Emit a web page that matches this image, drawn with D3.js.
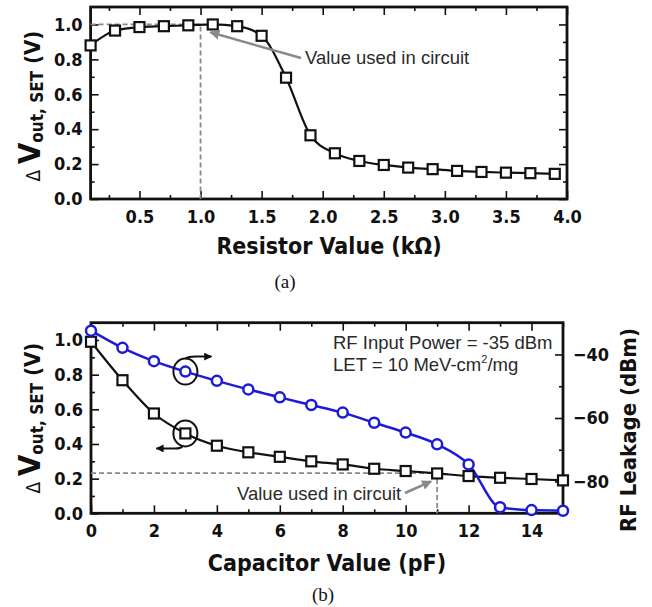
<!DOCTYPE html>
<html>
<head>
<meta charset="utf-8">
<script src="https://cdn.jsdelivr.net/npm/d3@7"></script>
<style>
body { margin: 0; background: #fff; }
text { font-family: "DejaVu Sans Condensed", "DejaVu Sans", sans-serif; font-stretch: condensed; fill: #111; }
.ax text { font-weight: bold; font-size: 18px; }
.ax line { stroke: #111; stroke-width: 1.6; }
.ax path { display: none; }
.note { font-family: "Liberation Sans", Arial, sans-serif; font-stretch: normal; font-size: 18.5px; fill: #2a2a2a; }
.cap { font-family: "Liberation Serif", "Times New Roman", serif; font-stretch: normal; font-size: 19px; }
</style>
</head>
<body>
<svg id="fig" width="652" height="607"></svg>
<script>
// (a) output swing vs resistor value
var resX = [0.1, 0.3, 0.5, 0.7, 0.9, 1.1, 1.3, 1.5, 1.7, 1.9, 2.1, 2.3, 2.5, 2.7, 2.9, 3.1, 3.3, 3.5, 3.7, 3.9]
var resV = [0.88, 0.965, 0.985, 0.99, 0.995, 1.0, 0.99, 0.935, 0.695, 0.365, 0.262, 0.218, 0.195, 0.18, 0.171, 0.161, 0.155, 0.151, 0.148, 0.144]
var resTicks = [0.5, 1.0, 1.5, 2.0, 2.5, 3.0, 3.5, 4.0]
var resMinor = [0.25, 0.75, 1.25, 1.75, 2.25, 2.75, 3.25, 3.75]
var resUsed = 1.0

// (b) output swing and RF leakage vs capacitor value
var capX = [0, 1, 2, 3, 4, 5, 6, 7, 8, 9, 10, 11, 12, 13, 14, 15]
var capV = [0.99, 0.768, 0.576, 0.461, 0.39, 0.352, 0.326, 0.30, 0.282, 0.257, 0.244, 0.23, 0.215, 0.205, 0.198, 0.19]
var capRF = [-32.5, -37.9, -42.1, -45.4, -48.3, -51.0, -53.5, -55.9, -58.3, -61.5, -64.6, -68.3, -74.6, -88.1, -89.0, -89.2]
var capTicks = [0, 2, 4, 6, 8, 10, 12, 14]
var capMinor = [1, 3, 5, 7, 9, 11, 13, 15]
var capUsed = 11

var vTicks = [0, 0.2, 0.4, 0.6, 0.8, 1.0]
var vMinor = [0.1, 0.3, 0.5, 0.7, 0.9]
var rfTicks = [-80, -60, -40]
var rfMinor = [-90, -70, -50, -30]

var svg = d3.select("#fig")
var fmt = d3.format(".1f")

var defs = svg.append("defs")
function arrowDef(id, color) {
  defs.append("marker").attr("id", id)
    .attr("viewBox", "0 0 10 10").attr("refX", 9).attr("refY", 5)
    .attr("markerWidth", 4).attr("markerHeight", 4).attr("orient", "auto")
    .append("path").attr("d", "M0,0 L10,5 L0,10 Z").attr("fill", color)
}
arrowDef("arrGray", "#8a8a8a")
arrowDef("arrBlack", "#111")

// draws a frame with inward ticks on all four sides
function frame(x, y, xt, xm, yt, ym, xfmt) {
  var g = svg.append("g").attr("class", "ax")
  var x0 = x.range()[0], x1 = x.range()[1], y0 = y.range()[0], y1 = y.range()[1]

  g.append("g").attr("transform", "translate(0," + y0 + ")")
    .call(d3.axisBottom(x).tickValues(xt).tickSize(-8).tickPadding(11).tickFormat(xfmt))
  g.append("g").attr("transform", "translate(0," + y0 + ")")
    .call(d3.axisBottom(x).tickValues(xm).tickSize(-4).tickFormat(""))
  g.append("g").attr("transform", "translate(0," + y1 + ")")
    .call(d3.axisTop(x).tickValues(xt).tickSize(-8).tickFormat(""))
  g.append("g").attr("transform", "translate(0," + y1 + ")")
    .call(d3.axisTop(x).tickValues(xm).tickSize(-4).tickFormat(""))

  g.append("g").attr("transform", "translate(" + x0 + ",0)")
    .call(d3.axisLeft(y).tickValues(yt).tickSize(-8).tickPadding(8).tickFormat(fmt))
  g.append("g").attr("transform", "translate(" + x0 + ",0)")
    .call(d3.axisLeft(y).tickValues(ym).tickSize(-4).tickFormat(""))

  svg.append("rect")
    .attr("x", x0).attr("y", y1)
    .attr("width", x1 - x0).attr("height", y0 - y1)
    .attr("fill", "none").attr("stroke", "#111").attr("stroke-width", 2.8)
  return g
}

function yLabel(cx, cy) {
  var t = svg.append("text")
    .attr("transform", "translate(" + cx + "," + cy + ") rotate(-90)")
    .attr("text-anchor", "middle")
  t.append("tspan").style("font-size", "19px").text("\u0394 ")
  t.append("tspan").style("font-size", "31px").style("font-weight", "bold").text("V")
  t.append("tspan").style("font-size", "17px").style("font-weight", "bold").attr("dy", 3).text("out, SET")
  t.append("tspan").style("font-size", "22px").style("font-weight", "bold").attr("dy", -3).text(" (V)")
}

function squares(x, y, xs, ys) {
  svg.append("g").selectAll("rect").data(xs).enter().append("rect")
    .attr("x", function(d) { return x(d) - 5 })
    .attr("y", function(d, i) { return y(ys[i]) - 5 })
    .attr("width", 10).attr("height", 10)
    .attr("fill", "#fff").attr("stroke", "#111").attr("stroke-width", 2.2)
}

// ---------- panel (a) ----------
var xa = d3.scaleLinear().domain([0.1, 4.0]).range([90.6, 567])
var ya = d3.scaleLinear().domain([0, 1.1]).range([199, 7])

var ga = frame(xa, ya, resTicks, resMinor, vTicks, vMinor, fmt)
ga.append("g").attr("transform", "translate(567,0)")
  .call(d3.axisRight(ya).tickValues(vTicks).tickSize(-8).tickFormat(""))
ga.append("g").attr("transform", "translate(567,0)")
  .call(d3.axisRight(ya).tickValues(vMinor).tickSize(-4).tickFormat(""))

// dashed guide to the used resistor value
svg.append("path")
  .attr("d", "M" + xa(0.1) + "," + ya(1.0) + "H" + xa(resUsed) + "V" + ya(0))
  .attr("fill", "none").attr("stroke", "#8a8a8a").attr("stroke-width", 1.8)
  .attr("stroke-dasharray", "5,3")

svg.append("path")
  .datum(resX)
  .attr("d", d3.line().curve(d3.curveMonotoneX)
    .x(function(d) { return xa(d) })
    .y(function(d, i) { return ya(resV[i]) }))
  .attr("fill", "none").attr("stroke", "#111").attr("stroke-width", 2.2)
squares(xa, ya, resX, resV)

svg.append("line")
  .attr("x1", 301).attr("y1", 58).attr("x2", xa(1.08)).attr("y2", ya(0.955))
  .attr("stroke", "#8a8a8a").attr("stroke-width", 2.5)
  .attr("marker-end", "url(#arrGray)")
svg.append("text").attr("class", "note").attr("x", 305).attr("y", 64).text("Value used in circuit")

yLabel(40, 106)
svg.append("text").attr("x", 329).attr("y", 254).attr("text-anchor", "middle")
  .style("font-size", "23px").style("font-weight", "bold").text("Resistor Value (k\u03a9)")
svg.append("text").attr("class", "cap").attr("x", 285).attr("y", 288).attr("text-anchor", "middle").text("(a)")

// ---------- panel (b) ----------
var xb = d3.scaleLinear().domain([0, 15]).range([91, 563])
var yb = d3.scaleLinear().domain([0, 1.1]).range([513.3, 322.7])
var yr = d3.scaleLinear().domain([-90, -30]).range([513.3, 322.7])

var gb = frame(xb, yb, capTicks, capMinor, vTicks, vMinor, d3.format("d"))
gb.append("g").attr("transform", "translate(563,0)")
  .call(d3.axisRight(yr).tickValues(rfTicks).tickSize(-8).tickPadding(10))
gb.append("g").attr("transform", "translate(563,0)")
  .call(d3.axisRight(yr).tickValues(rfMinor).tickSize(-4).tickFormat(""))

svg.append("path")
  .attr("d", "M" + xb(0) + "," + yb(0.232) + "H" + xb(capUsed) + "V" + yb(0))
  .attr("fill", "none").attr("stroke", "#8a8a8a").attr("stroke-width", 1.8)
  .attr("stroke-dasharray", "5,3")

svg.append("path")
  .datum(capX)
  .attr("d", d3.line().curve(d3.curveMonotoneX)
    .x(function(d) { return xb(d) })
    .y(function(d, i) { return yb(capV[i]) }))
  .attr("fill", "none").attr("stroke", "#111").attr("stroke-width", 2.2)

svg.append("path")
  .datum(capX)
  .attr("d", d3.line().curve(d3.curveMonotoneX)
    .x(function(d) { return xb(d) })
    .y(function(d, i) { return yr(capRF[i]) }))
  .attr("fill", "none").attr("stroke", "#1c1cd6").attr("stroke-width", 2.5)

squares(xb, yb, capX, capV)
svg.append("g").selectAll("circle").data(capX).enter().append("circle")
  .attr("cx", function(d) { return xb(d) })
  .attr("cy", function(d, i) { return yr(capRF[i]) })
  .attr("r", 5)
  .attr("fill", "#fff").attr("stroke", "#1c1cd6").attr("stroke-width", 2.5)

// series markers: circle + arrow pointing to the axis
var cb = [xb(3), yr(capRF[3])]
svg.append("ellipse").attr("cx", cb[0]).attr("cy", cb[1]).attr("rx", 12).attr("ry", 13)
  .attr("fill", "none").attr("stroke", "#111").attr("stroke-width", 2)
svg.append("path")
  .attr("d", "M" + cb[0] + "," + (cb[1] - 13) + "Q" + (cb[0] + 3) + "," + (cb[1] - 15) + " " + (cb[0] + 10) + "," + (cb[1] - 15) + "H" + (cb[0] + 26))
  .attr("fill", "none").attr("stroke", "#111").attr("stroke-width", 2)
  .attr("marker-end", "url(#arrBlack)")

var ck = [xb(3), yb(capV[3])]
svg.append("ellipse").attr("cx", ck[0]).attr("cy", ck[1]).attr("rx", 12).attr("ry", 13)
  .attr("fill", "none").attr("stroke", "#111").attr("stroke-width", 2)
svg.append("path")
  .attr("d", "M" + (ck[0] - 3) + "," + (ck[1] + 13) + "Q" + (ck[0] - 5) + "," + (ck[1] + 15) + " " + (ck[0] - 10) + "," + (ck[1] + 15) + "H" + (ck[0] - 29))
  .attr("fill", "none").attr("stroke", "#111").attr("stroke-width", 2)
  .attr("marker-end", "url(#arrBlack)")

svg.append("line")
  .attr("x1", 405).attr("y1", 493).attr("x2", xb(capUsed) - 6).attr("y2", yb(capV[11]) + 8)
  .attr("stroke", "#8a8a8a").attr("stroke-width", 2.5)
  .attr("marker-end", "url(#arrGray)")
svg.append("text").attr("class", "note").attr("x", 237).attr("y", 500).text("Value used in circuit")

svg.append("text").attr("class", "note").attr("x", 333).attr("y", 349).text("RF Input Power = -35 dBm")
var let_ = svg.append("text").attr("class", "note").attr("x", 333).attr("y", 371)
let_.append("tspan").text("LET = 10 MeV-cm")
let_.append("tspan").attr("dy", -8).style("font-size", "11px").text("2")
let_.append("tspan").attr("dy", 8).text("/mg")

yLabel(40, 418)
svg.append("text").attr("transform", "translate(636,430) rotate(-90)").attr("text-anchor", "middle")
  .style("font-size", "22px").style("font-weight", "bold").text("RF Leakage (dBm)")
svg.append("text").attr("x", 327).attr("y", 571).attr("text-anchor", "middle")
  .style("font-size", "23px").style("font-weight", "bold").text("Capacitor Value (pF)")
svg.append("text").attr("class", "cap").attr("x", 323).attr("y", 601).attr("text-anchor", "middle").text("(b)")
</script>
</body>
</html>
